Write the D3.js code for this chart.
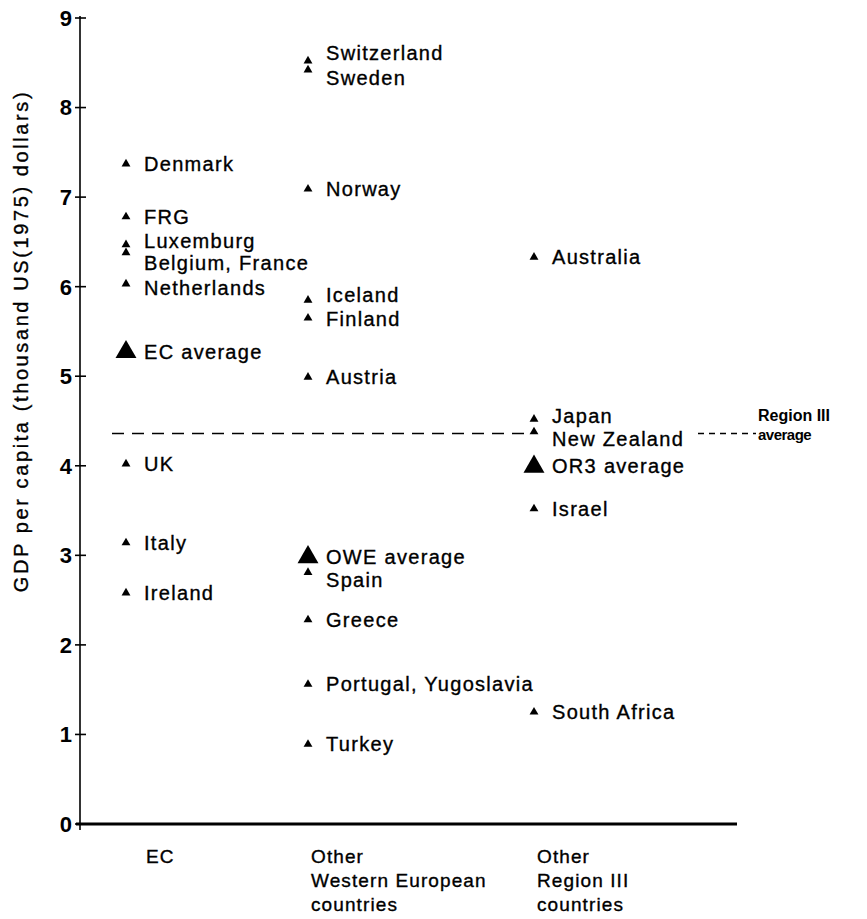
<!DOCTYPE html>
<html>
<head>
<meta charset="utf-8">
<script src="https://cdn.jsdelivr.net/npm/d3@7/dist/d3.min.js"></script>
<style>
  html, body { margin: 0; padding: 0; background: #fff; }
  svg { display: block; }
  text { font-family: "Liberation Sans", Arial, Helvetica, sans-serif; fill: #000; }
  .heavy { stroke: #000; stroke-width: 0.35px; }
</style>
</head>
<body>
<svg id="chart" width="867" height="919"></svg>
<script>
// ---------------- data ----------------
const groups = ["EC", "OWE", "OR3"];
const groupLabels = [["EC"], ["Other", "Western European", "countries"], ["Other", "Region III", "countries"]];
const yTicks = [0, 1, 2, 3, 4, 5, 6, 7, 8, 9];
const yTitle = "GDP per capita (thousand US(1975) dollars)";

const ecNames = ["Denmark", "FRG", "Luxemburg", "Belgium, France", "Netherlands", "EC average", "UK", "Italy", "Ireland"];
const ecValues = [7.37, 6.78, 6.47, 6.38, 6.03, 5.27, 4.02, 3.14, 2.58];

const oweNames = ["Switzerland", "Sweden", "Norway", "Iceland", "Finland", "Austria", "OWE average", "Spain", "Greece", "Portugal, Yugoslavia", "Turkey"];
const oweValues = [8.52, 8.42, 7.09, 5.85, 5.65, 4.99, 2.98, 2.81, 2.28, 1.56, 0.89];

const or3Names = ["Australia", "Japan", "New Zealand", "OR3 average", "Israel", "South Africa"];
const or3Values = [6.33, 4.52, 4.38, 3.99, 3.52, 1.25];

const averageNames = ["EC average", "OWE average", "OR3 average"];
const regionAverage = 4.36;
const regionAverageLabel = ["Region III", "average"];

// ---------------- layout ----------------
const labelNudge = { "Switzerland": -8, "Sweden": 8, "Luxemburg": -3, "Belgium, France": 11,
                     "Netherlands": 4, "Iceland": -5, "Finland": 1,
                     "Spain": 8, "New Zealand": 7, "Japan": -3 };

const svg = d3.select("#chart");
const axisX = 80;
const y = d3.scaleLinear().domain([0, 9]).range([824, 18]);
const x = d3.scaleOrdinal().domain(groups).range([126, 308, 534]);

// rows built from arrays
const rows = [];
ecNames.forEach((n, i) => rows.push({ name: n, group: "EC", value: ecValues[i] }));
oweNames.forEach((n, i) => rows.push({ name: n, group: "OWE", value: oweValues[i] }));
or3Names.forEach((n, i) => rows.push({ name: n, group: "OR3", value: or3Values[i] }));
rows.forEach(r => r.avg = averageNames.includes(r.name));

// y axis
const gy = svg.append("g").attr("transform", `translate(${axisX},0)`);
gy.append("line").attr("x1", 0).attr("x2", 0).attr("y1", y(9) - 2).attr("y2", y(0) + 6)
  .attr("stroke", "#000").attr("stroke-width", 1.6);
gy.selectAll(".tk").data(yTicks).join("line")
  .attr("x1", -5).attr("x2", 6).attr("y1", d => y(d)).attr("y2", d => y(d))
  .attr("stroke", "#000").attr("stroke-width", 1.6);
gy.selectAll(".tl").data(yTicks).join("text")
  .attr("x", -8).attr("y", d => y(d)).attr("dy", "0.36em")
  .attr("text-anchor", "end").attr("font-size", 22).attr("font-weight", "bold")
  .text(d => d);

// baseline
svg.append("line").attr("x1", axisX - 4).attr("x2", 737).attr("y1", y(0)).attr("y2", y(0))
  .attr("stroke", "#000").attr("stroke-width", 3);

// y title
svg.append("text").attr("class", "heavy")
  .attr("transform", `translate(28,341) rotate(-90)`)
  .attr("text-anchor", "middle").attr("font-size", 20).attr("letter-spacing", 2.6)
  .text(yTitle);

// region average dashed line
const ry = y(regionAverage);
svg.append("line").attr("x1", 112).attr("x2", 532).attr("y1", ry).attr("y2", ry)
  .attr("stroke", "#000").attr("stroke-width", 1.5).attr("stroke-dasharray", "12,8");
svg.append("line").attr("x1", 698).attr("x2", 756).attr("y1", ry).attr("y2", ry)
  .attr("stroke", "#000").attr("stroke-width", 1.5).attr("stroke-dasharray", "6,5");
svg.append("text").attr("x", 758).attr("y", ry - 13).attr("font-size", 16).attr("font-weight", "bold")
  .text(regionAverageLabel[0]);
svg.append("text").attr("x", 758).attr("y", ry + 6).attr("font-size", 15).attr("font-weight", "bold")
  .attr("letter-spacing", -0.5).text(regionAverageLabel[1]);

// markers
const small = d3.symbol().type(d3.symbolTriangle).size(34)();
const big = d3.symbol().type(d3.symbolTriangle).size(190)();
svg.selectAll(".m").data(rows).join("path")
  .attr("d", d => d.avg ? big : small)
  .attr("transform", d => `translate(${x(d.group)},${y(d.value)})`)
  .attr("fill", "#000");

// labels
svg.selectAll(".lab").data(rows).join("text").attr("class", "heavy")
  .attr("x", d => x(d.group) + 18)
  .attr("y", d => y(d.value) + (labelNudge[d.name] || 0))
  .attr("dy", "0.34em")
  .attr("font-size", 20).attr("letter-spacing", 1.3)
  .text(d => d.name);

// category labels
groups.forEach((g, i) => {
  const gx = x(g) + (i === 0 ? 20 : 3);
  const t = svg.append("text").attr("class", "heavy").attr("x", gx).attr("y", 863)
    .attr("font-size", 19).attr("letter-spacing", 1.1);
  groupLabels[i].forEach((s, j) => t.append("tspan").attr("x", gx).attr("dy", j === 0 ? 0 : 24).text(s));
});
</script>
</body>
</html>
